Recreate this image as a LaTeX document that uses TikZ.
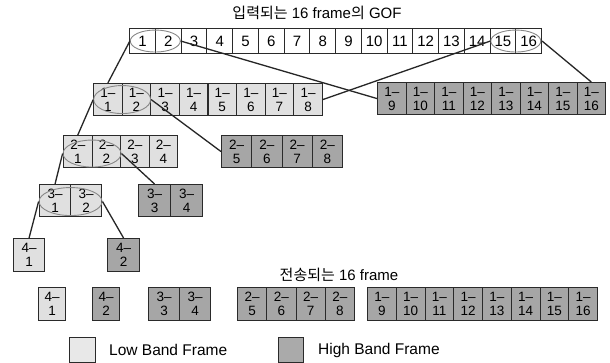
\documentclass[tikz,border=0pt]{standalone}
\usepackage{fontspec}
\setmainfont{Liberation Sans}
\newfontfamily\kr{Noto Sans CJK KR}
\usetikzlibrary{shapes.geometric,calc}
\definecolor{lowc}{HTML}{E0E0E0}
\definecolor{highc}{HTML}{A6A6A6}
\definecolor{edgec}{HTML}{2A2A2A}
\definecolor{ovalc}{HTML}{888888}
\begin{document}
\begin{tikzpicture}[x=1pt,y=-1pt,
  box/.style={draw=edgec, line width=1.1pt, inner sep=0pt, anchor=north west, align=center, font=\fontsize{13.5}{14}\selectfont},
  topbox/.style={box, fill=white, minimum width=25.75pt, minimum height=25pt, font=\fontsize{15}{15}\selectfont},
  lowbox/.style={box, fill=lowc},
  highbox/.style={box, fill=highc},
  pairoval/.style={ellipse, draw=ovalc, line width=0.9pt, inner sep=0pt},
  link/.style={draw=black!85, line width=1.3pt},
  caption/.style={font=\fontsize{15}{15}\selectfont, inner sep=0pt}
]
\fill[white] (0,0) rectangle (610,363);
\useasboundingbox (0,0) rectangle (610,363);

% captions
\node[caption] (title) at (317,13) {{\kr 입력되는} 16 frame{\kr 의} GOF};
\node[caption] (sub) at (339,275) {{\kr 전송되는} 16 frame};

% input GOF
\foreach \i in {1,...,16}
  \node[topbox] (t\i) at ({129+(\i-1)*25.75},28) {\i};

% level 1
\foreach \i in {1,...,8}
  \node[lowbox, minimum width=28.6pt, minimum height=32pt] (a\i) at ({93+(\i-1)*28.6},83) {1–\\\i};
\foreach \i in {9,...,16}
  \node[highbox, minimum width=28.5pt, minimum height=32pt] (h\i) at ({377+(\i-9)*28.5},82) {1–\\\i};

% level 2
\foreach \i in {1,...,4}
  \node[lowbox, minimum width=28.5pt, minimum height=32pt] (b\i) at ({63+(\i-1)*28.5},135) {2–\\\i};
\foreach \i in {5,...,8}
  \node[highbox, minimum width=30.25pt, minimum height=32pt] (g\i) at ({221+(\i-5)*30.25},135) {2–\\\i};

% level 3
\foreach \i in {1,2}
  \node[lowbox, minimum width=31pt, minimum height=32pt] (c\i) at ({39+(\i-1)*31},184) {3–\\\i};
\foreach \i in {3,4}
  \node[highbox, minimum width=32pt, minimum height=32pt] (k\i) at ({138+(\i-3)*32},184) {3–\\\i};

% level 4
\node[lowbox, minimum width=31pt, minimum height=33pt] (d1) at (13,238) {4–\\1};
\node[highbox, minimum width=32pt, minimum height=33pt] (d2) at (107,238) {4–\\2};

% transmitted frames
\node[lowbox, minimum width=27pt, minimum height=33pt] (p1) at (38,287) {4–\\1};
\node[highbox, minimum width=27pt, minimum height=33pt] (p2) at (92,287) {4–\\2};
\foreach \i in {3,4}
  \node[highbox, minimum width=31pt, minimum height=33pt] (q\i) at ({148+(\i-3)*31},287) {3–\\\i};
\foreach \i in {5,...,8}
  \node[highbox, minimum width=29.25pt, minimum height=33pt] (r\i) at ({237+(\i-5)*29.25},287) {2–\\\i};
\foreach \i in {9,...,16}
  \node[highbox, minimum width=28.75pt, minimum height=33pt] (u\i) at ({367+(\i-9)*28.75},287) {1–\\\i};

% legend
\node[box, fill=lowc!75, minimum width=26pt, minimum height=25pt] (lk) at (69,337) {};
\node[caption, anchor=west, font=\fontsize{15.5}{15.5}\selectfont] (lt) at (109,350) {Low Band Frame};
\node[box, fill=highc!95, minimum width=25pt, minimum height=25pt] (hk) at (278,337) {};
\node[caption, anchor=west, font=\fontsize{15.5}{15.5}\selectfont] (ht) at (318,350) {High Band Frame};

% pair ovals
\node[pairoval, minimum width=50pt, minimum height=22pt] (e0) at ($(t1.center)!0.5!(t2.center)$) {};
\node[pairoval, minimum width=50pt, minimum height=22pt] (e1) at ($(t15.center)!0.5!(t16.center)$) {};
\node[pairoval, minimum width=57pt, minimum height=28pt] (e2) at ($(a1.center)!0.5!(a2.center)$) {};
\node[pairoval, minimum width=58pt, minimum height=27pt] (e3) at ($(b1.center)!0.5!(b2.center)+(0,2)$) {};
\node[pairoval, minimum width=63pt, minimum height=28pt] (e4) at ($(c1.center)!0.5!(c2.center)+(0,1)$) {};

% links
\draw[link] (e0.west) -- (a1.north);
\draw[link] (e0.east) -- (h9.west);
\draw[link] (e1.west) -- (a8.east);
\draw[link] (t16.east) -- (h16.north);
\draw[link] (e2.west) -- (b1.north);
\draw[link] (e2.east) -- (g5.west);
\draw[link] (e3.west) -- (c1.north);
\draw[link] (e3.east) -- (k3.north);
\draw[link] (e4.west) -- (d1.north);
\draw[link] (e4.east) -- (d2.north);
\end{tikzpicture}
\end{document}
